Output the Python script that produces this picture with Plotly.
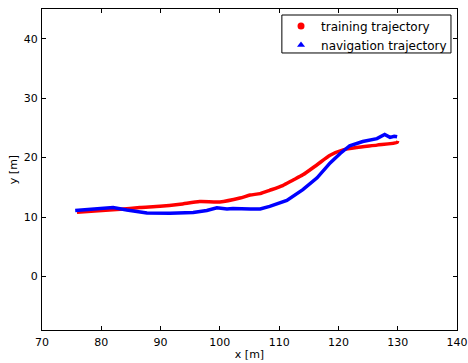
import plotly.graph_objects as go

# training trajectory (red)
train_x = [75.9, 79.5, 83.2, 86.5, 89.9, 93.3, 96.6, 100.0, 103.4, 105.1, 106.8, 108.4, 110.6, 112.3, 114.0, 116.4, 118.6, 120.8, 123.1, 126.5, 129.9, 130.0]
train_y = [10.8, 11.05, 11.3, 11.6, 11.8, 12.15, 12.6, 12.55, 13.2, 13.7, 13.95, 14.5, 15.3, 16.2, 17.1, 18.8, 20.4, 21.3, 21.7, 22.1, 22.55, 22.8]

# navigation trajectory (blue)
nav_x = [75.6, 78.6, 82.0, 84.3, 87.7, 91.6, 95.5, 97.8, 99.5, 101.2, 102.2, 105.1, 106.8, 108.4, 111.3, 114.0, 116.4, 118.6, 120.3, 121.9, 124.1, 126.5, 127.8, 128.7, 129.4, 129.9]
nav_y = [11.1, 11.3, 11.6, 11.2, 10.7, 10.65, 10.75, 11.1, 11.55, 11.35, 11.45, 11.35, 11.35, 11.8, 12.8, 14.6, 16.6, 19.1, 20.7, 22.0, 22.7, 23.2, 23.9, 23.4, 23.6, 23.5]

x_ticks = [70, 80, 90, 100, 110, 120, 130, 140]
y_ticks = [0, 10, 20, 30, 40]

fig = go.Figure()
fig.add_trace(go.Scatter(x=train_x, y=train_y, mode="lines",
                         line=dict(color="#ff0000", width=3.5, shape="spline", smoothing=0.6),
                         showlegend=False))
fig.add_trace(go.Scatter(x=nav_x, y=nav_y, mode="lines",
                         line=dict(color="#0000ff", width=3.5), showlegend=False))
fig.add_trace(go.Scatter(x=[None], y=[None], mode="markers", name="training trajectory",
                         marker=dict(color="#ff0000", symbol="circle", size=7)))
fig.add_trace(go.Scatter(x=[None], y=[None], mode="markers", name="navigation trajectory",
                         marker=dict(color="#0000ff", symbol="triangle-up", size=7)))

axis_common = dict(showgrid=False, zeroline=False, showline=True, linecolor="black",
                   linewidth=1, mirror="ticks", ticks="inside", ticklen=4,
                   tickcolor="black", tickfont=dict(size=11, color="black"),
                   automargin=False)

fig.update_xaxes(range=[70, 140], tickvals=x_ticks, ticklabelstandoff=2,
                 title=dict(text="x [m]", font=dict(size=11, color="black"), standoff=2),
                 **axis_common)
fig.update_yaxes(range=[-9, 45], tickvals=y_ticks, ticklabelstandoff=1,
                 title=dict(text="y [m]", font=dict(size=11, color="black"), standoff=3),
                 **axis_common)

# legend frame (decoration)
fig.add_shape(type="rect", xref="paper", yref="paper",
              x0=0.578, x1=0.9855, y0=0.863, y1=0.9813,
              line=dict(color="black", width=1), fillcolor="white", layer="below")

fig.update_layout(
    width=468, height=363,
    margin=dict(l=42, r=11, t=9, b=33),
    paper_bgcolor="white", plot_bgcolor="white",
    font=dict(family="DejaVu Sans", color="black"),
    legend=dict(x=0.988, y=0.992, xanchor="right", yanchor="top",
                borderwidth=0, bgcolor="rgba(0,0,0,0)", tracegroupgap=0,
                font=dict(size=12, color="black")),
)

fig.write_html("out.html")
